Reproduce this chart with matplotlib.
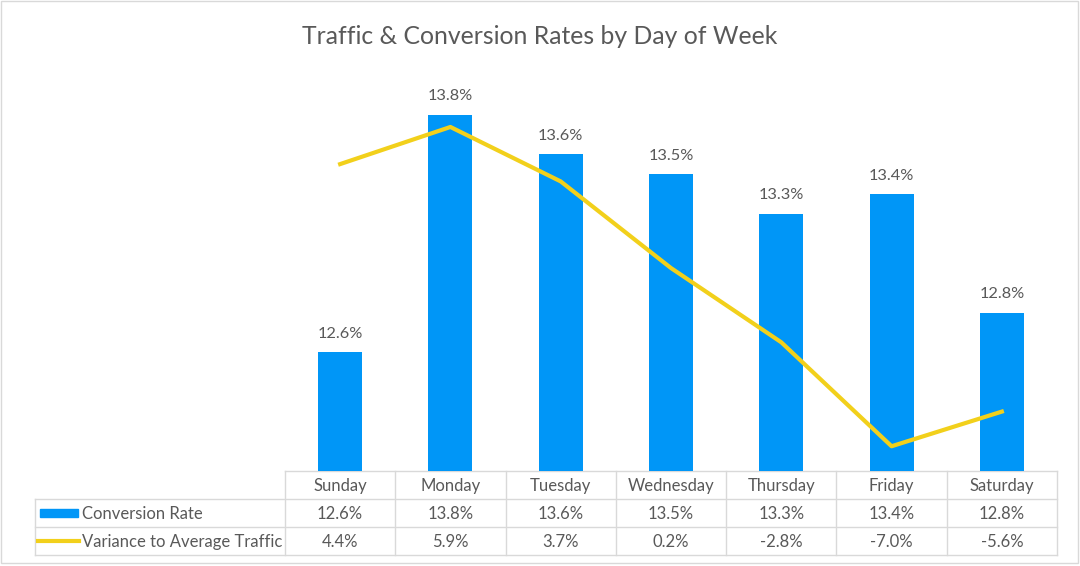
import matplotlib
matplotlib.use("Agg")
import matplotlib.pyplot as plt
from matplotlib.transforms import blended_transform_factory
from matplotlib.patches import Rectangle
from matplotlib.lines import Line2D

plt.rcParams["font.family"] = ["Lato", "DejaVu Sans"]

days = ["Sunday", "Monday", "Tuesday", "Wednesday", "Thursday", "Friday", "Saturday"]
conversion_rate = [12.6, 13.8, 13.6, 13.5, 13.3, 13.4, 12.8]
traffic_variance = [4.4, 5.9, 3.7, 0.2, -2.8, -7.0, -5.6]
series_names = ["Conversion Rate", "Variance to Average Traffic"]

BLUE = "#0096F7"
YELLOW = "#F2D01B"
TEXT = "#595959"
GRID = "#D9D9D9"

W_PX, H_PX = 1080, 566
PLOT_L, PLOT_R, PLOT_T, PLOT_B = 285, 1057, 75, 471
ROW_H = 28
TABLE_L = 35

fig = plt.figure(figsize=(W_PX / 100, H_PX / 100), dpi=100)
fig.patch.set_facecolor("white")

# pixel-space overlay for the table and border
ov = fig.add_axes([0, 0, 1, 1], zorder=0)
ov.set_xlim(0, W_PX)
ov.set_ylim(H_PX, 0)
ov.axis("off")

ax = fig.add_axes([PLOT_L / W_PX, 1 - PLOT_B / H_PX,
                   (PLOT_R - PLOT_L) / W_PX, (PLOT_B - PLOT_T) / H_PX], zorder=1)
ax.patch.set_alpha(0)
x = list(range(len(days)))
ax.bar(x, conversion_rate, width=0.4, color=BLUE)
ax.set_xlim(-0.5, len(days) - 0.5)
ax.set_ylim(12, 14)
ax.axis("off")
for i, v in zip(x, conversion_rate):
    ax.annotate(f"{v:.1f}%", (i, v), xytext=(0, 8), textcoords="offset points",
                ha="center", va="bottom", fontsize=11.8, color=TEXT)

ax2 = ax.twinx()
ax2.plot(x, traffic_variance, color=YELLOW, lw=3, solid_joinstyle="round")
ax2.set_ylim(-8, 8)
ax2.axis("off")

fig.text(0.5, 1 - 36 / H_PX, "Traffic & Conversion Rates by Day of Week",
         ha="center", va="center", fontsize=17.8, color=TEXT)

# data table
tr = blended_transform_factory(ax.transData, ov.transData)
y0 = PLOT_B
rows_y = [y0 + ROW_H * k for k in range(4)]
ov.plot([PLOT_L, PLOT_R], [rows_y[0]] * 2, color=GRID, lw=1)
for yy in rows_y[1:]:
    ov.plot([TABLE_L, PLOT_R], [yy] * 2, color=GRID, lw=1)
ov.plot([TABLE_L, TABLE_L], [rows_y[1], rows_y[3]], color=GRID, lw=1)
for k in range(len(days) + 1):
    ov.add_line(Line2D([k - 0.5, k - 0.5], [rows_y[0], rows_y[3]], color=GRID,
                       lw=1, transform=tr))

fs = 12
for i, d in enumerate(days):
    ov.text(i, rows_y[0] + ROW_H / 2 + 1, d, transform=tr, ha="center", va="center",
            fontsize=fs, color=TEXT)
    ov.text(i, rows_y[1] + ROW_H / 2 + 1, f"{conversion_rate[i]:.1f}%", transform=tr,
            ha="center", va="center", fontsize=fs, color=TEXT)
    ov.text(i, rows_y[2] + ROW_H / 2 + 1, f"{traffic_variance[i]:.1f}%", transform=tr,
            ha="center", va="center", fontsize=fs, color=TEXT)

# row headers with legend keys
ov.add_patch(Rectangle((40, rows_y[1] + ROW_H / 2 - 4), 38, 8, color=BLUE))
ov.plot([38, 79], [rows_y[2] + ROW_H / 2] * 2, color=YELLOW, lw=3)
for k, name in enumerate(series_names):
    ov.text(82, rows_y[k + 1] + ROW_H / 2 + 1, name, ha="left", va="center",
            fontsize=fs, color=TEXT)

# outer border
ov.add_patch(Rectangle((1, 1), W_PX - 3, H_PX - 4, fill=False, ec=GRID, lw=1))

fig.savefig("out.png", dpi=100)
